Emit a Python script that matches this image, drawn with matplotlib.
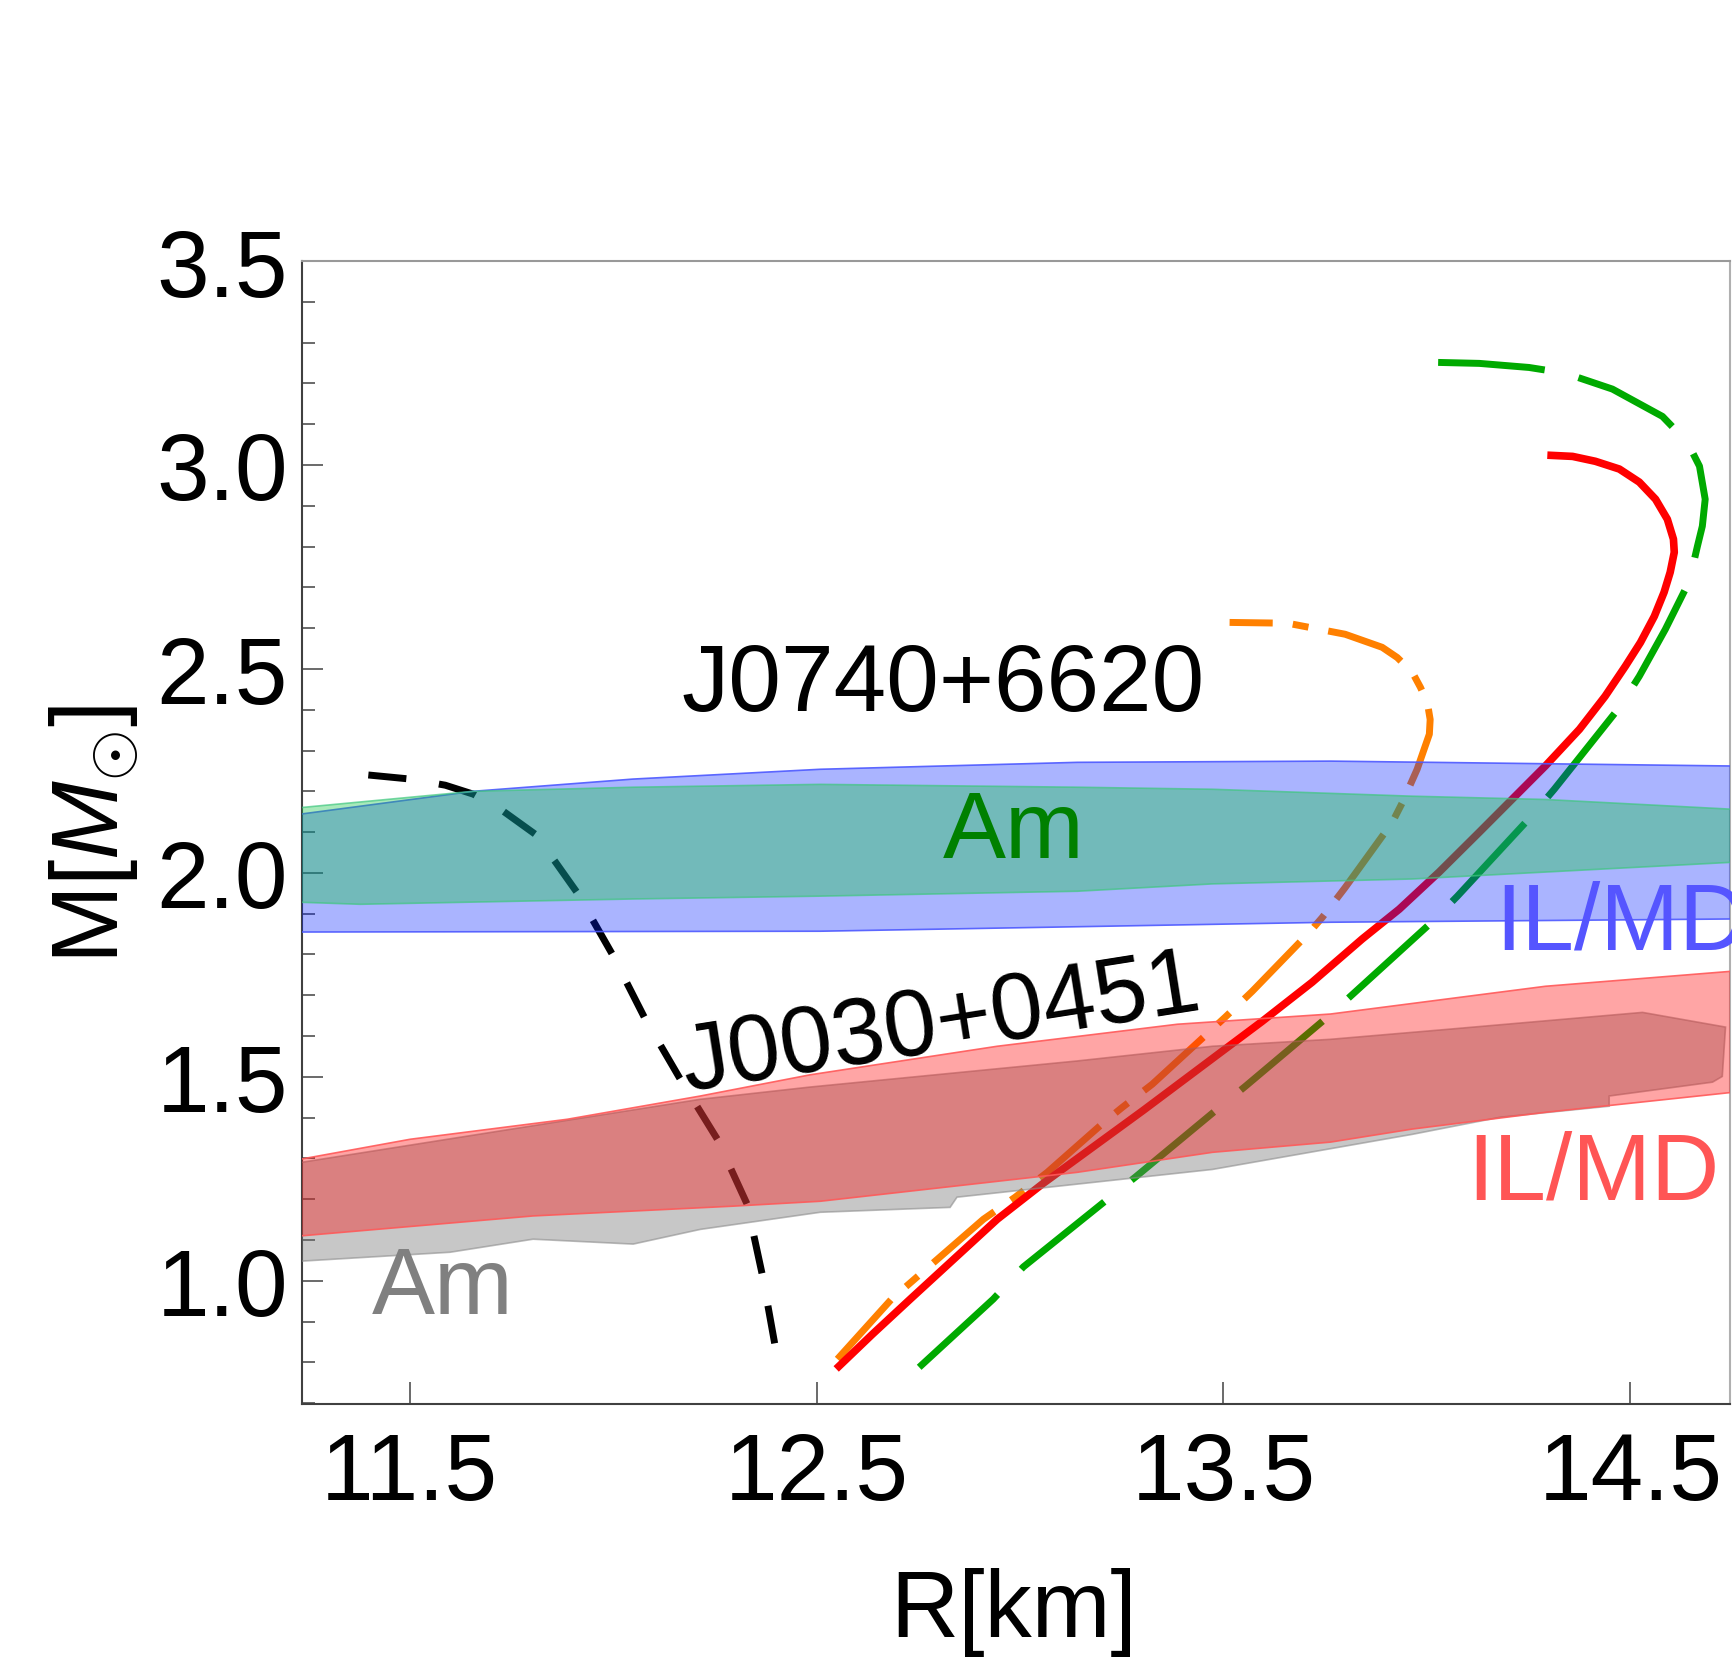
import matplotlib
matplotlib.use("Agg")
import matplotlib.pyplot as plt
from matplotlib.ticker import MultipleLocator, FixedLocator

plt.rcParams['font.family'] = ['Liberation Sans', 'DejaVu Sans']
plt.rcParams['mathtext.fontset'] = 'custom'
plt.rcParams['mathtext.rm'] = 'Liberation Sans'
plt.rcParams['mathtext.it'] = 'Liberation Sans:italic'

# ---- M-R curves (R in km, M in solar masses) ----
black_R = [11.398, 11.501, 11.587, 11.656, 11.730, 11.808, 11.857, 11.911, 11.998,
           12.079, 12.165, 12.256, 12.329, 12.367, 12.398]
black_M = [2.240, 2.230, 2.215, 2.193, 2.151, 2.095, 2.028, 1.952, 1.800,
           1.641, 1.494, 1.347, 1.188, 1.012, 0.840]

red_R = [12.548, 12.637, 12.730, 12.944, 13.057, 13.303, 13.473, 13.595, 13.718, 13.841,
         13.932, 14.030, 14.129, 14.210, 14.291, 14.375, 14.438, 14.488, 14.525, 14.559,
         14.583, 14.598, 14.608, 14.606, 14.591, 14.562, 14.522, 14.473, 14.414, 14.358,
         14.296]
red_M = [0.784, 0.869, 0.955, 1.151, 1.239, 1.418, 1.545, 1.636, 1.732, 1.838,
         1.911, 2.002, 2.100, 2.181, 2.262, 2.352, 2.433, 2.507, 2.565, 2.629,
         2.688, 2.737, 2.786, 2.818, 2.867, 2.916, 2.958, 2.990, 3.009, 3.021,
         3.024]

green_R = [12.752, 12.934, 13.008, 13.215, 13.283, 13.485, 13.554, 13.755, 13.817, 14.014,
           14.075, 14.254, 14.313, 14.475, 14.522, 14.586, 14.645, 14.665, 14.677, 14.684,
           14.670, 14.640, 14.579, 14.456, 14.340, 14.251, 14.129, 14.001]
green_M = [0.788, 0.955, 1.034, 1.200, 1.254, 1.421, 1.477, 1.646, 1.702, 1.881,
           1.943, 2.136, 2.205, 2.408, 2.482, 2.597, 2.715, 2.801, 2.850, 2.916,
           2.997, 3.056, 3.119, 3.186, 3.225, 3.239, 3.249, 3.252]

orange_R = [12.551, 12.684, 12.910, 12.988, 13.067, 13.209, 13.251, 13.325, 13.467, 13.505,
            13.571, 13.711, 13.743, 13.799, 13.915, 13.940, 13.976, 14.006, 14.008, 14.001,
            13.984, 13.964, 13.927, 13.890, 13.799, 13.658, 13.515]
orange_M = [0.808, 0.955, 1.151, 1.205, 1.266, 1.391, 1.425, 1.482, 1.612, 1.647,
            1.710, 1.854, 1.891, 1.964, 2.124, 2.173, 2.254, 2.340, 2.376, 2.418,
            2.455, 2.492, 2.528, 2.553, 2.585, 2.612, 2.614]

# ---- observational bands ----
# J0740+6620 IL/MD (blue)
blue_up_R = [11.231, 11.656, 12.049, 12.509, 13.141, 13.763, 14.751]
blue_up_M = [2.144, 2.200, 2.230, 2.254, 2.271, 2.274, 2.262]
blue_lo_R = [11.231, 12.509, 13.141, 13.763, 14.751]
blue_lo_M = [1.855, 1.857, 1.868, 1.879, 1.887]
# J0740+6620 Am (green)
green_up_R = [11.231, 11.656, 12.049, 12.509, 13.141, 13.473, 13.964, 14.291, 14.751]
green_up_M = [2.160, 2.200, 2.210, 2.217, 2.210, 2.205, 2.188, 2.180, 2.156]
green_lo_R = [11.231, 11.378, 12.049, 12.509, 13.141, 13.473, 13.964, 14.291, 14.751]
green_lo_M = [1.928, 1.923, 1.936, 1.943, 1.955, 1.973, 1.985, 2.002, 2.026]
# J0030+0451 IL/MD (red)
redb_up_R = [11.231, 11.501, 11.887, 12.214, 12.484, 12.944, 13.387, 13.763, 14.291, 14.751]
redb_up_M = [1.298, 1.347, 1.396, 1.453, 1.505, 1.575, 1.629, 1.654, 1.722, 1.759]
redb_lo_R = [11.231, 11.803, 12.295, 12.509, 13.141, 13.473, 13.763, 13.964, 14.291, 14.751]
redb_lo_M = [1.110, 1.159, 1.183, 1.195, 1.266, 1.315, 1.340, 1.372, 1.413, 1.462]
# J0030+0451 Am (gray), closed outline
gray_R = [11.231, 12.214, 12.484, 13.141, 13.473, 13.763, 14.057, 14.530, 14.734, 14.726,
          14.702, 14.448, 14.448, 14.180, 13.964, 13.473, 12.845, 12.828, 12.509, 12.214,
          12.049, 11.803, 11.599, 11.231]
gray_M = [1.290, 1.445, 1.475, 1.539, 1.575, 1.592, 1.617, 1.658, 1.622, 1.501,
          1.487, 1.453, 1.428, 1.401, 1.359, 1.273, 1.205, 1.180, 1.168, 1.126,
          1.090, 1.102, 1.070, 1.048]

x_ticks = [11.5, 12.5, 13.5, 14.5]
x_ticklabels = ['11.5', '12.5', '13.5', '14.5']
y_ticks = [1.0, 1.5, 2.0, 2.5, 3.0, 3.5]
y_ticklabels = ['1.0', '1.5', '2.0', '2.5', '3.0', '3.5']

fig = plt.figure(figsize=(17.32, 16.58), dpi=100)
ax = fig.add_axes([302/1732, 1 - 1405/1658, 1428/1732, 1143/1658])

lw = 5.0
ax.plot(black_R, black_M, color='black', lw=lw, dashes=(5.5, 4.75), zorder=2)
ax.plot(orange_R, orange_M, color='#FF8000', lw=lw, dashes=(11.5, 2.9, 2.3, 2.9), zorder=2)
ax.plot(green_R, green_M, color='#00AA00', lw=lw, dashes=(15.4, 5.0), zorder=2)
ax.plot(red_R, red_M, color='#FF0000', lw=5.5, zorder=2, solid_capstyle='butt',
        solid_joinstyle='round')

def band(up_R, up_M, lo_R, lo_M):
    return list(up_R) + list(lo_R)[::-1], list(up_M) + list(lo_M)[::-1]

ax.fill(gray_R, gray_M, facecolor=(116/255, 116/255, 116/255, 0.40),
        edgecolor=(0.55, 0.55, 0.55, 0.6), lw=1.2, zorder=3)
rx, ry = band(redb_up_R, redb_up_M, redb_lo_R, redb_lo_M)
ax.fill(rx, ry, facecolor=(1.0, 0.0, 0.0, 0.353),
        edgecolor=(1.0, 0.35, 0.35, 0.9), lw=1.2, zorder=4)
bx, by = band(blue_up_R, blue_up_M, blue_lo_R, blue_lo_M)
ax.fill(bx, by, facecolor=(0.0, 30/255, 1.0, 0.333),
        edgecolor=(0.3, 0.35, 1.0, 0.9), lw=1.2, zorder=5)
tx, ty = band(green_up_R, green_up_M, green_lo_R, green_lo_M)
ax.fill(tx, ty, facecolor=(19/255, 197/255, 68/255, 0.37),
        edgecolor=(0.25, 0.78, 0.5, 0.7), lw=1.2, zorder=6)

fs = 68
ax.text(12.811, 2.460, 'J0740+6620', fontsize=fs, color='black', ha='center', va='center', zorder=10)
ax.text(12.806, 1.627, 'J0030+0451', fontsize=fs, color='black', ha='center', va='center',
        rotation=9, rotation_mode='anchor', zorder=10)
ax.text(12.985, 2.100, 'Am', fontsize=fs, color='#008000', ha='center', va='center', zorder=10)
ax.text(11.580, 0.980, 'Am', fontsize=fs, color='#808080', ha='center', va='center', zorder=10)
ax.text(14.168, 1.874, 'IL/MD', fontsize=fs, color='#5555FF', ha='left', va='center',
        zorder=10, clip_on=False)
ax.text(14.100, 1.262, 'IL/MD', fontsize=fs, color='#FF5555', ha='left', va='center', zorder=10)

ax.set_xlim(11.235, 14.745)
ax.set_ylim(0.698, 3.5)
ax.xaxis.set_major_locator(FixedLocator(x_ticks))
ax.set_xticklabels(x_ticklabels)
ax.yaxis.set_major_locator(FixedLocator(y_ticks))
ax.set_yticklabels(y_ticklabels)
ax.yaxis.set_minor_locator(MultipleLocator(0.1))

tcol = '#505050'
ax.tick_params(axis='x', which='major', direction='in', length=16, width=1.2, colors=tcol,
               labelcolor='black', labelsize=fs, pad=19, top=False)
ax.tick_params(axis='y', which='major', direction='in', length=15, width=1.2, colors=tcol,
               labelcolor='black', labelsize=fs, pad=10, right=False)
ax.tick_params(axis='y', which='minor', direction='in', length=9, width=1.2, colors=tcol, right=False)
ax.tick_params(axis='x', which='minor', bottom=False, top=False)

ax.spines['left'].set_color('#404040')
ax.spines['bottom'].set_color('#404040')
ax.spines['top'].set_color('#999999')
ax.spines['right'].set_color('#B0B0B0')
for s in ax.spines.values():
    s.set_linewidth(1.5)

fig.text(1014/1732, 1 - 1637/1658, 'R[km]', fontsize=fs, ha='center', va='baseline')
fig.text(94/1732, 1 - 834/1658, r'M[$M_{\odot}$]', fontsize=fs, ha='center', va='center',
         rotation=90)

fig.savefig('out.png', dpi=100)
